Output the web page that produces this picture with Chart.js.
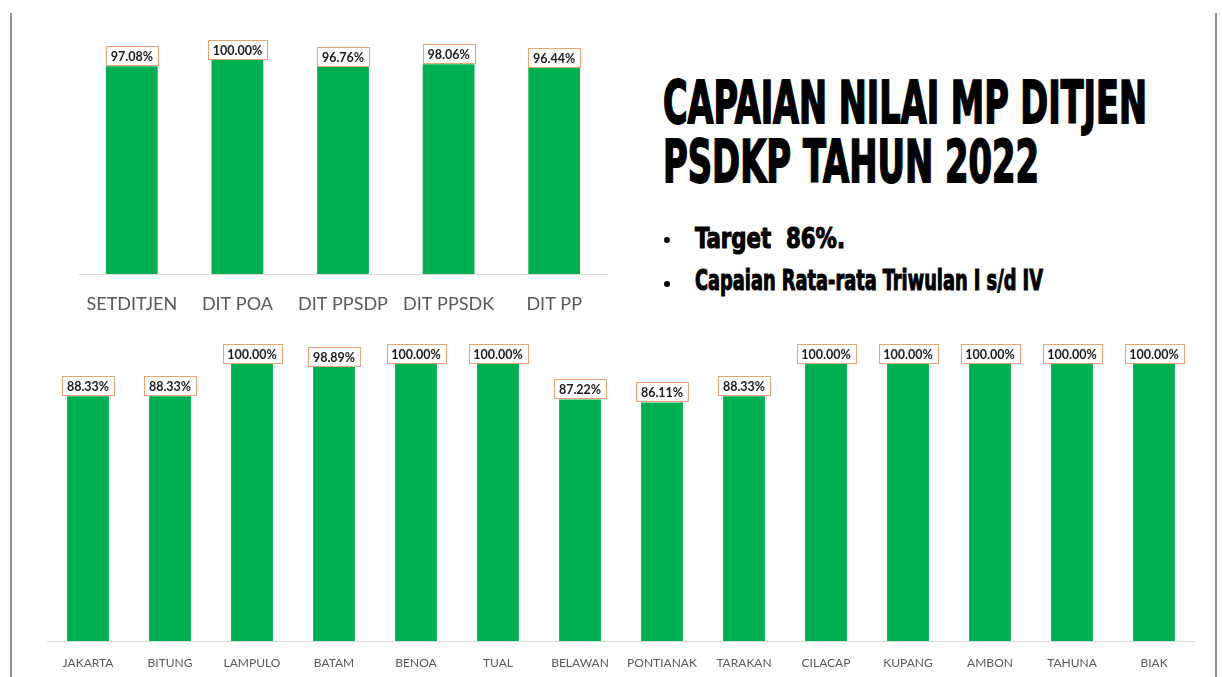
<!DOCTYPE html>
<html>
<head>
<meta charset="utf-8">
<script src="https://cdn.jsdelivr.net/npm/chart.js@4"></script>
<style>
  html, body { margin:0; padding:0; background:#fff; width:1222px; height:677px; overflow:hidden; }
  #wrap { position:relative; width:1222px; height:677px; }
  canvas { position:absolute; }
  .border { position:absolute; background:#8e8e8e; width:2px; }
  .t { position:absolute; white-space:nowrap; color:#000; font-family:"DejaVu Sans Condensed","Liberation Sans Narrow","DejaVu Sans",sans-serif; font-weight:bold; line-height:1; transform-origin:0 0; -webkit-text-stroke:1.8px #000; }
  .bul { position:absolute; width:6px; height:6px; border-radius:3px; background:#000; }
</style>
</head>
<body>
<div id="wrap">
  <div class="border" style="left:10px; top:13px; height:664px;"></div>
  <div class="border" style="left:1215px; top:13px; height:664px;"></div>
  <canvas id="top" width="640" height="330" style="left:0; top:0;"></canvas>
  <canvas id="bot" width="1222" height="347" style="left:0; top:330px;"></canvas>
  <span class="t" data-w="484" style="left:663px; top:73px; font-size:59px;">CAPAIAN NILAI MP DITJEN</span>
  <span class="t" data-w="376" style="left:663px; top:132px; font-size:59px;">PSDKP TAHUN 2022</span>
  <div class="bul" style="left:664px; top:237px;"></div>
  <span class="t" data-w="150" style="left:695px; top:224px; font-size:29px; -webkit-text-stroke:1.1px #000;">Target&nbsp; 86%.</span>
  <div class="bul" style="left:664px; top:281px;"></div>
  <span class="t" data-w="348" style="left:695px; top:266px; font-size:29px; -webkit-text-stroke:1.1px #000;">Capaian Rata-rata Triwulan I s/d IV</span>
</div>
<script>
const topCategories = ['SETDITJEN', 'DIT POA', 'DIT PPSDP', 'DIT PPSDK', 'DIT PP'];
const topValues = [97.08, 100.00, 96.76, 98.06, 96.44];

const bottomCategories = ['JAKARTA', 'BITUNG', 'LAMPULO', 'BATAM', 'BENOA', 'TUAL', 'BELAWAN',
  'PONTIANAK', 'TARAKAN', 'CILACAP', 'KUPANG', 'AMBON', 'TAHUNA', 'BIAK'];
const bottomValues = [88.33, 88.33, 100.00, 98.89, 100.00, 100.00, 87.22,
  86.11, 88.33, 100.00, 100.00, 100.00, 100.00, 100.00];

const BAR_COLOR = '#00B050';

const boxLabels = {
  id: 'boxLabels',
  afterDatasetsDraw(chart) {
    const ctx = chart.ctx;
    const ds = chart.data.datasets[0];
    const meta = chart.getDatasetMeta(0);
    ctx.save();
    ctx.font = 'bold 12.5px Lato, "Open Sans", sans-serif';
    ctx.textAlign = 'center';
    ctx.textBaseline = 'middle';
    meta.data.forEach((bar, i) => {
      const txt = ds.data[i].toFixed(2) + '%';
      const tw = ctx.measureText(txt).width;
      const w = Math.round(tw + 10), h = 19;
      const x = Math.round(bar.x - w / 2) + 0.5;
      const y = Math.round(bar.y - h - 1) + 0.5;
      ctx.fillStyle = '#ffffff';
      ctx.fillRect(x, y, w, h);
      ctx.strokeStyle = '#E9A274';
      ctx.lineWidth = 1;
      ctx.strokeRect(x, y, w, h);
      ctx.fillStyle = '#1b1b1b';
      ctx.fillText(txt, bar.x, y + h / 2 + 0.5);
    });
    ctx.restore();
  }
};

function makeChart(id, labels, values, opts) {
  return new Chart(document.getElementById(id), {
    type: 'bar',
    data: {
      labels: labels,
      datasets: [{
        data: values,
        backgroundColor: BAR_COLOR,
        borderWidth: 0,
        barPercentage: opts.barPct,
        categoryPercentage: 1
      }]
    },
    options: {
      responsive: false,
      animation: false,
      devicePixelRatio: 1,
      layout: { padding: opts.padding },
      plugins: { legend: { display: false }, tooltip: { enabled: false }, title: { display: false } },
      scales: {
        x: {
          grid: { display: false },
          border: { display: true, color: '#d9d9d9', width: 1 },
          ticks: {
            color: '#595959',
            font: { family: 'Lato, "Open Sans", sans-serif', size: opts.tickSize },
            padding: opts.tickPad,
            maxRotation: 0,
            autoSkip: false
          },
          afterFit(scale) { scale.height = opts.axisH; }
        },
        y: { display: false, min: 0, max: 100 }
      }
    },
    plugins: [boxLabels]
  });
}

makeChart('top', topCategories, topValues, {
  barPct: 0.49, padding: { top: 60, left: 79, right: 33, bottom: 0 },
  tickSize: 18, tickPad: 11, axisH: 56
});
makeChart('bot', bottomCategories, bottomValues, {
  barPct: 0.51, padding: { top: 34, left: 47, right: 27, bottom: 0 },
  tickSize: 12, tickPad: 7, axisH: 36
});

document.querySelectorAll('.t').forEach(el => {
  el.style.display = 'inline-block';
  const w = el.getBoundingClientRect().width;
  const target = parseFloat(el.dataset.w);
  el.style.transform = 'scaleX(' + (target / w) + ')';
});
</script>
</body>
</html>
